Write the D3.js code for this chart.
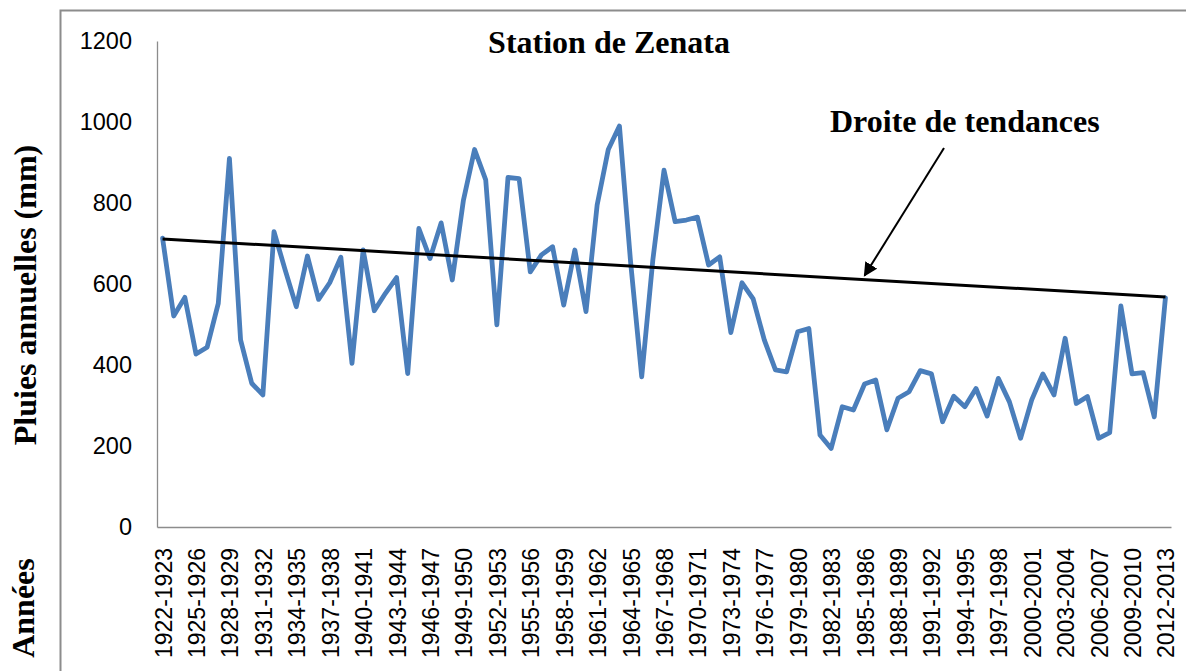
<!DOCTYPE html>
<html>
<head>
<meta charset="utf-8">
<script src="https://cdn.jsdelivr.net/npm/d3@7"></script>
<style>
  body { margin: 0; background: #fff; }
  svg { display: block; }
</style>
</head>
<body>
<svg id="chart" width="1186" height="671"></svg>
<script>
// Années hydrologiques (1922-1923 ... 2012-2013)
var startYears = d3.range(1922, 2013);
var categories = startYears.map(function(y) { return y + "-" + (y + 1); });

// Pluies annuelles (mm)
var rainfall = [
  713, 521, 567, 427, 444, 552, 910, 462, 355, 326,
  729, 635, 544, 669, 562, 603, 666, 404, 684, 534,
  577, 616, 379, 737, 663, 751, 610, 807, 932, 857,
  499, 863, 860, 630, 672, 692, 548, 684, 532, 795,
  932, 990, 655, 371, 660, 881, 754, 758, 765, 647,
  667, 480, 603, 563, 462, 388, 383, 482, 490, 227,
  194, 297, 289, 353, 363, 240, 318, 334, 386, 378,
  260, 323, 297, 342, 274, 367, 309, 219, 314, 378,
  326, 466, 305, 322, 219, 233, 546, 378, 381, 272,
  566
];

// Droite de tendances : valeurs aux extrémités
var trendValues = [711, 568];

var yTicks = [0, 200, 400, 600, 800, 1000, 1200];

var svg = d3.select("#chart"),
    margin = {top: 41, right: 15, bottom: 144, left: 157},
    width = +svg.attr("width") - margin.left - margin.right,
    height = +svg.attr("height") - margin.top - margin.bottom,
    g = svg.append("g").attr("transform", "translate(" + margin.left + "," + margin.top + ")");

var sans = "'Liberation Sans', Arial, sans-serif",
    serif = "'Liberation Serif', 'Times New Roman', serif";

// cadre extérieur
svg.append("path")
    .attr("d", "M60.5,671V10.5H1186")
    .attr("fill", "none")
    .attr("stroke", "#8c8c8c")
    .attr("stroke-width", 2);

var x = d3.scaleBand().domain(categories).range([0, width]);
var y = d3.scaleLinear().domain([0, 1200]).range([height, 0]);

function cx(c) { return x(c) + x.bandwidth() / 2; }

// axe Y
var yAxis = g.append("g")
    .call(d3.axisLeft(y).tickValues(yTicks).tickSize(0).tickPadding(25).tickFormat(d3.format("d")));
yAxis.select(".domain").attr("stroke", "#8c8c8c").attr("stroke-width", 1.3);
yAxis.selectAll("text")
    .attr("font-family", sans)
    .attr("font-size", 23.5)
    .attr("fill", "#000");

// axe X
var xAxis = g.append("g")
    .attr("transform", "translate(0," + height + ")")
    .call(d3.axisBottom(x)
      .tickValues(categories.filter(function(d, i) { return i % 3 === 0; }))
      .tickSize(0)
      .tickPadding(0));
xAxis.select(".domain").attr("stroke", "#8c8c8c").attr("stroke-width", 1.3);
xAxis.selectAll("text")
    .attr("font-family", sans)
    .attr("font-size", 23)
    .attr("fill", "#000")
    .attr("text-anchor", "end")
    .attr("dy", "0.35em")
    .attr("transform", "translate(1,21) rotate(-90)");

// série des pluies
var line = d3.line()
    .x(function(d, i) { return cx(categories[i]); })
    .y(function(d) { return y(d); });

g.append("path")
    .datum(rainfall)
    .attr("fill", "none")
    .attr("stroke", "#4a7ebb")
    .attr("stroke-width", 4.8)
    .attr("stroke-linejoin", "round")
    .attr("stroke-linecap", "round")
    .attr("d", line);

// droite de tendances
var first = categories[0], last = categories[categories.length - 1];
g.append("line")
    .attr("x1", cx(first)).attr("y1", y(trendValues[0]))
    .attr("x2", cx(last)).attr("y2", y(trendValues[1]))
    .attr("stroke", "#000")
    .attr("stroke-width", 3);

// flèche vers la droite
svg.append("defs").append("marker")
    .attr("id", "arrow")
    .attr("viewBox", "0 0 10 10")
    .attr("refX", 9).attr("refY", 5)
    .attr("markerWidth", 7).attr("markerHeight", 7)
    .attr("markerUnits", "strokeWidth")
    .attr("orient", "auto")
  .append("path")
    .attr("d", "M0,0L10,5L0,10z")
    .attr("fill", "#000");

var tipIdx = 63;
var tipT = tipIdx / (categories.length - 1);
var tipX = cx(categories[tipIdx]) + margin.left,
    tipY = y(trendValues[0] + (trendValues[1] - trendValues[0]) * tipT) + margin.top - 4;

svg.append("line")
    .attr("x1", 944).attr("y1", 148)
    .attr("x2", tipX).attr("y2", tipY)
    .attr("stroke", "#000")
    .attr("stroke-width", 2)
    .attr("marker-end", "url(#arrow)");

svg.append("text")
    .attr("x", 830).attr("y", 132)
    .attr("font-family", serif)
    .attr("font-weight", "bold")
    .attr("font-size", 32)
    .text("Droite de tendances");

// titre
svg.append("text")
    .attr("x", 609).attr("y", 53)
    .attr("text-anchor", "middle")
    .attr("font-family", serif)
    .attr("font-weight", "bold")
    .attr("font-size", 32)
    .text("Station de Zenata");

// titres des axes
svg.append("text")
    .attr("transform", "translate(36,295) rotate(-90)")
    .attr("text-anchor", "middle")
    .attr("font-family", serif)
    .attr("font-weight", "bold")
    .attr("font-size", 32)
    .text("Pluies annuelles (mm)");

svg.append("text")
    .attr("transform", "translate(34,608) rotate(-90)")
    .attr("text-anchor", "middle")
    .attr("font-family", serif)
    .attr("font-weight", "bold")
    .attr("font-size", 32)
    .text("Années");
</script>
</body>
</html>
